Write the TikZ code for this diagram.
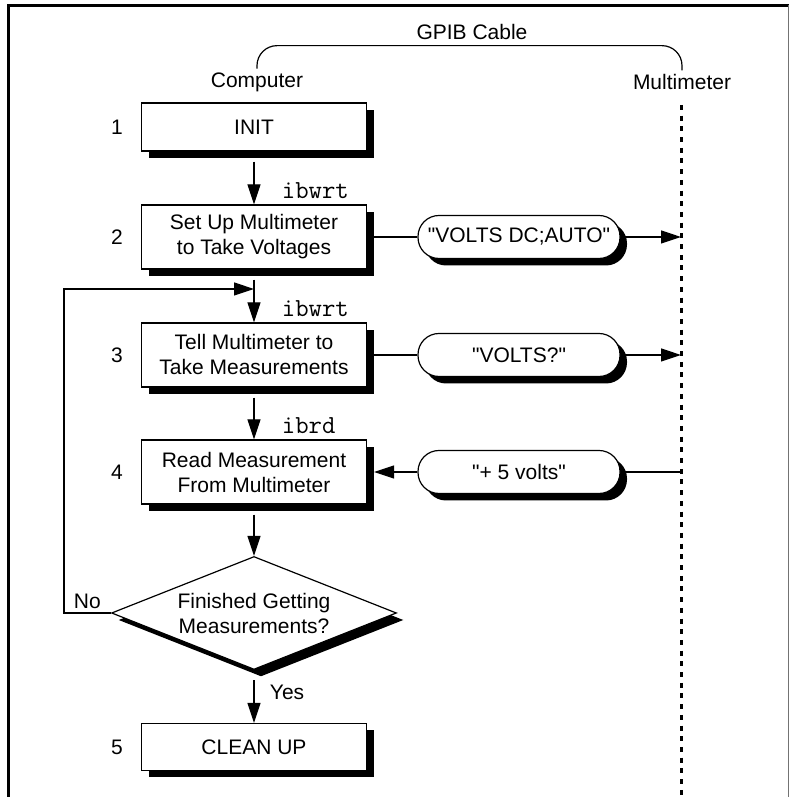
\documentclass[tikz,border=0pt]{standalone}
\usepackage{fontspec}
\setmainfont{Liberation Sans}[Ligatures=TeXOff]
\usetikzlibrary{arrows.meta,shapes.geometric,shadows}

\begin{document}
\begin{tikzpicture}[x=1pt, y=1pt, line width=1.2pt,
    every node/.style={font=\fontsize{21}{25}\selectfont, align=center},
    solid shadow/.style={drop shadow={shadow xshift=7pt, shadow yshift=-7pt, fill=black, opacity=1}},
    stepbox/.style={draw, fill=white, minimum width=225pt, inner sep=0pt, solid shadow},
    msg/.style={draw, fill=white, rounded corners=21pt, minimum width=202pt, minimum height=43pt, inner sep=0pt, solid shadow},
    test/.style={diamond, draw, fill=white, aspect=2.5, minimum width=285pt, minimum height=113pt, inner sep=0pt, solid shadow},
    arr/.style={-{Triangle[length=20pt,width=13pt]}},
    flow/.style={arr, shorten <=10pt},
    cmd/.style={font=\fontsize{26}{30}\ttfamily, anchor=base west, xshift=24pt, yshift=6pt},
    bus/.style={line width=3pt, dash pattern=on 5pt off 5.7pt}]
  \useasboundingbox (0,0) rectangle (789,797);
  % frame
  \draw[line width=3pt] (8.5,0) -- (8.5,791.5) -- (789,791.5);
  \draw[black!55, line width=1pt] (788,0) -- (788,791.5);

  % cable between the two ends
  \node (cable) at (472,765) {GPIB Cable};
  \node (computer) at (257,715) {Computer};
  \node (meter) at (682,715) {Multimeter};
  \draw[rounded corners=20pt] (computer.north) |- ([yshift=-2pt]cable.south) -| (meter.north);
  \coordinate (bus) at (681,692);
  \coordinate (busend) at (681,0);
  \draw[bus] (bus) -- (busend);

  % program steps
  \node[stepbox, minimum height=48pt] (init) at (254,670) {INIT};
  \node[stepbox, minimum height=64pt] (setup) at (254,560) {Set Up Multimeter\\to Take Voltages};
  \node[stepbox, minimum height=64pt] (tell) at (254,442) {Tell Multimeter to\\Take Measurements};
  \node[stepbox, minimum height=64pt] (read) at (254,325) {Read Measurement\\From Multimeter};
  \node[test] (done) at (254,184) {Finished Getting\\Measurements?};
  \node[stepbox, minimum height=47pt] (clean) at (254,50) {CLEAN UP};
  \node (n1) at (117,670) {1};
  \node (n2) at (117,560) {2};
  \node (n3) at (117,442) {3};
  \node (n4) at (117,325) {4};
  \node (n5) at (117,50) {5};

  % messages on the bus
  \node[msg] (auto) at (519,560) {"VOLTS DC;AUTO"};
  \node[msg] (query) at (519,442) {"VOLTS?"};
  \node[msg] (reply) at (519,325) {"+ 5 volts"};

  \draw[flow] (init) -- (setup) node[cmd, pos=1] {ibwrt};
  \draw[flow] (setup) -- (tell) node[cmd, pos=1] {ibwrt};
  \draw[flow] (tell) -- (read) node[cmd, pos=1] {ibrd};
  \draw[flow] (read) -- (done);
  \draw[flow] (done) -- (clean) node[pos=0.43, right=12pt] {Yes};
  \coordinate (loop) at (254,508);
  \draw[arr] (done.west) -- ++(-47,0) node[midway, above] {No} |- (loop);

  \draw (setup.east) -- (auto.west);
  \draw[arr] (auto.east) -- (auto.east -| bus);
  \draw (tell.east) -- (query.west);
  \draw[arr] (query.east) -- (query.east -| bus);
  \draw (reply.east -| bus) -- (reply.east);
  \draw[arr, shorten >=7pt] (reply.west) -- (read.east);
\end{tikzpicture}
\end{document}
